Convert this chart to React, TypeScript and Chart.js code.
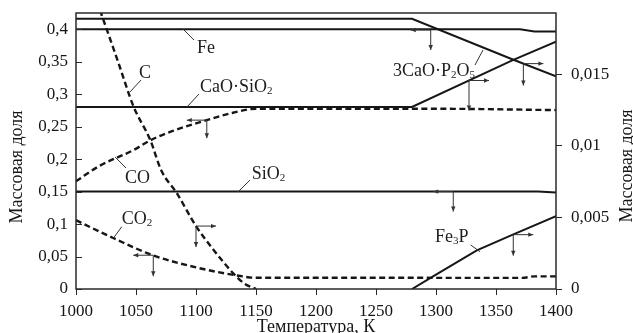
import React, { useEffect, useRef } from 'react';
import { Chart, registerables } from 'chart.js';
Chart.register(...registerables);

// ---- tick values / labels ----
const xTicks = [1000, 1050, 1100, 1150, 1200, 1250, 1300, 1350, 1400];
const xTickLabels = ['1000', '1050', '1100', '1150', '1200', '1250', '1300', '1350', '1400'];
const leftTicks = [0, 0.05, 0.1, 0.15, 0.2, 0.25, 0.3, 0.35, 0.4];
const leftTickLabels = ['0', '0,05', '0,1', '0,15', '0,2', '0,25', '0,3', '0,35', '0,4'];
const rightTicks = [0, 0.005, 0.01, 0.015];
const rightTickLabels = ['0', '0,005', '0,01', '0,015'];

// ---- left-axis series ----
const feT = [1000, 1370, 1382, 1400];
const feV = [0.4, 0.4, 0.3965, 0.3965];
const coT = [1000, 1020, 1048, 1062, 1080, 1109, 1130, 1150, 1300, 1400];
const coV = [0.166, 0.19, 0.214, 0.229, 0.243, 0.26, 0.271, 0.2775, 0.2775, 0.2755];
const sio2T = [1000, 1385, 1400];
const sio2V = [0.15, 0.15, 0.1485];
const co2T = [1000, 1020, 1031, 1064, 1103, 1137, 1148, 1372, 1382, 1400];
const co2V = [0.106, 0.088, 0.0785, 0.052, 0.032, 0.02, 0.0174, 0.0172, 0.0195, 0.0195];

// ---- right-axis series ----
const cT = [1020, 1035, 1048, 1062, 1071, 1084, 1100, 1115, 1131, 1140, 1150];
const cV = [0.0195, 0.0159, 0.01275, 0.0104, 0.0083, 0.0067, 0.0044, 0.0027, 0.0011, 0.0004, 0];
const casio3T = [1000, 1280, 1364, 1400];
const casio3V = [0.01273, 0.01273, 0.01601, 0.0173];
const c3pT = [1000, 1280, 1364, 1400];
const c3pV = [0.0189, 0.0189, 0.01605, 0.01488];
const fe3pT = [1280, 1300, 1334, 1364, 1400];
const fe3pV = [0, 0.001, 0.0027, 0.0038, 0.0051];

// ---- annotations (data coordinates) ----
const arrows = [
  { t: 1109, v: 0.26, axis: 'yL', dir: -1, down: 18 },
  { t: 1100, v: 0.0044, axis: 'yR', dir: 1, down: 21 },
  { t: 1064.4, v: 0.052, axis: 'yL', dir: -1, down: 21 },
  { t: 1295.6, v: 0.3988, axis: 'yL', dir: -1, down: 20 },
  { t: 1314.4, v: 0.15, axis: 'yL', dir: -1, down: 20 },
  { t: 1327.5, v: 0.01458, axis: 'yR', dir: 1, down: 30 },
  { t: 1372.8, v: 0.01576, axis: 'yR', dir: 1, down: 22 },
  { t: 1364.4, v: 0.0038, axis: 'yR', dir: 1, down: 21 },
];
const labels = [
  { text: 'Fe', t: 1100.8, v: 0.3727, lead: [1089.2, 0.4004, 1098.3, 0.3834] },
  { text: 'C', t: 1052.5, v: 0.3342, lead: [1045, 0.3034, 1054.2, 0.3218] },
  { text: 'CaO·SiO_2', t: 1103.3, v: 0.3126, lead: [1092.5, 0.2803, 1102.5, 0.3003] },
  { text: 'CO', t: 1040.8, v: 0.1725, lead: [1032.5, 0.2033, 1041.7, 0.1863] },
  { text: 'SiO_2', t: 1146.4, v: 0.1786, lead: [1135, 0.1494, 1145, 0.1678] },
  { text: 'CO_2', t: 1038.1, v: 0.1093, lead: [1031.1, 0.0781, 1038.1, 0.0959] },
  { text: '3CaO·P_2O_5', t: 1264.2, v: 0.3372, lead: [1332.5, 0.3449, 1339.2, 0.368] },
  { text: 'Fe_3P', t: 1299.2, v: 0.0816, lead: [1328.9, 0.0678, 1336.7, 0.0574] },
];

const yTitle = 'Массовая доля';
const xTitle = 'Температура, К';
const FONT = '"Liberation Serif", "Times New Roman", serif';
const INK = '#161616';

function drawRich(ctx: CanvasRenderingContext2D, str: string, x: number, yBase: number, size: number) {
  const parts: { s: string; sub: boolean }[] = [];
  let i = 0;
  while (i < str.length) {
    if (str[i] === '_') {
      parts.push({ s: str[i + 1], sub: true });
      i += 2;
    } else {
      let j = i;
      while (j < str.length && str[j] !== '_') j++;
      parts.push({ s: str.slice(i, j), sub: false });
      i = j;
    }
  }
  let cx = x;
  for (const p of parts) {
    ctx.font = `${p.sub ? Math.round(size * 0.62) : size}px ${FONT}`;
    ctx.fillText(p.s, cx, p.sub ? yBase + size * 0.1 : yBase);
    cx += ctx.measureText(p.s).width;
  }
}

function arrowHead(ctx: CanvasRenderingContext2D, x: number, y: number, dx: number, dy: number) {
  const L = 5, W = 2.2;
  ctx.beginPath();
  ctx.moveTo(x, y);
  ctx.lineTo(x - dx * L - dy * W, y - dy * L + dx * W);
  ctx.lineTo(x - dx * L + dy * W, y - dy * L - dx * W);
  ctx.closePath();
  ctx.fill();
}

const decorPlugin = {
  id: 'decor',
  beforeDraw(chart: any) {
    const { ctx, width, height } = chart;
    ctx.save();
    ctx.fillStyle = '#fff';
    ctx.fillRect(0, 0, width, height);
    ctx.restore();
  },
  afterDatasetsDraw(chart: any) {
    const { ctx, chartArea: a, scales } = chart;
    const sx = scales.x;
    ctx.save();
    // frame
    ctx.strokeStyle = '#2a2a2a';
    ctx.lineWidth = 1.5;
    ctx.strokeRect(a.left, a.top, a.right - a.left, a.bottom - a.top);
    // inward left ticks
    ctx.lineWidth = 1;
    ctx.beginPath();
    for (const v of leftTicks) {
      const y = Math.round(scales.yL.getPixelForValue(v)) + 0.5;
      ctx.moveTo(a.left, y);
      ctx.lineTo(a.left + 6, y);
    }
    ctx.stroke();

    // arrows
    ctx.strokeStyle = '#333';
    ctx.fillStyle = '#333';
    ctx.lineWidth = 1;
    for (const ar of arrows) {
      const cx = sx.getPixelForValue(ar.t);
      const cy = scales[ar.axis].getPixelForValue(ar.v);
      const hx = cx + ar.dir * 20;
      const vy = cy + ar.down;
      ctx.beginPath();
      ctx.moveTo(hx, cy);
      ctx.lineTo(cx, cy);
      ctx.lineTo(cx, vy);
      ctx.stroke();
      arrowHead(ctx, hx, cy, ar.dir, 0);
      arrowHead(ctx, cx, vy, 0, 1);
    }

    // labels with leader lines
    ctx.fillStyle = '#1e1e1e';
    ctx.strokeStyle = '#333';
    ctx.textBaseline = 'alphabetic';
    ctx.textAlign = 'left';
    const yl = scales.yL;
    for (const lb of labels) {
      ctx.beginPath();
      ctx.moveTo(sx.getPixelForValue(lb.lead[0]), yl.getPixelForValue(lb.lead[1]));
      ctx.lineTo(sx.getPixelForValue(lb.lead[2]), yl.getPixelForValue(lb.lead[3]));
      ctx.stroke();
      const px = sx.getPixelForValue(lb.t);
      const py = yl.getPixelForValue(lb.v);
      drawRich(ctx, lb.text, px, py + 6, 18);
    }
    ctx.restore();
  },
  afterDraw(chart: any) {
    const { ctx, chartArea: a, height } = chart;
    ctx.save();
    ctx.fillStyle = INK;
    ctx.font = `18px ${FONT}`;
    ctx.textAlign = 'center';
    ctx.textBaseline = 'middle';
    ctx.save();
    ctx.translate(17, 167);
    ctx.rotate(-Math.PI / 2);
    ctx.fillText(yTitle, 0, 0);
    ctx.restore();
    ctx.save();
    ctx.translate(627, 166);
    ctx.rotate(-Math.PI / 2);
    ctx.fillText(yTitle, 0, 0);
    ctx.restore();
    ctx.textBaseline = 'alphabetic';
    ctx.fillText(xTitle, (a.left + a.right) / 2, height - 1);
    ctx.restore();
  },
};

const mk = (label: string, T: number[], V: number[], axis: string, dashed: boolean) => ({
  label,
  data: T.map((t, i) => ({ x: t, y: V[i] })),
  yAxisID: axis,
  borderColor: INK,
  borderWidth: dashed ? 2.4 : 2,
  borderDash: dashed ? [6, 3.5] : [],
  pointRadius: 0,
  fill: false,
  tension: 0,
  cubicInterpolationMode: dashed ? 'monotone' : 'default',
});

const noVPad = (w: number) => (s: any) => {
  s.width = w;
  s.paddingTop = 0;
  s.paddingBottom = 0;
};

export default function App() {
  const ref = useRef<HTMLCanvasElement>(null);
  useEffect(() => {
    document.body.style.margin = '0';
    const tickFont = { family: FONT, size: 17 };
    const chart = new Chart(ref.current as HTMLCanvasElement, {
      type: 'line',
      data: {
        datasets: [
          mk('Fe', feT, feV, 'yL', false),
          mk('CO', coT, coV, 'yL', true),
          mk('SiO2', sio2T, sio2V, 'yL', false),
          mk('CO2', co2T, co2V, 'yL', true),
          mk('C', cT, cV, 'yR', true),
          mk('CaO·SiO2', casio3T, casio3V, 'yR', false),
          mk('3CaO·P2O5', c3pT, c3pV, 'yR', false),
          mk('Fe3P', fe3pT, fe3pV, 'yR', false),
        ] as any,
      },
      options: {
        responsive: false,
        devicePixelRatio: 1,
        animation: false,
        events: [],
        layout: { padding: { top: 13, left: 0, right: 0, bottom: 0 }, autoPadding: false },
        plugins: { legend: { display: false }, tooltip: { enabled: false } },
        scales: {
          x: {
            type: 'linear',
            position: 'bottom',
            min: 1000,
            max: 1400,
            afterBuildTicks: (s: any) => { s.ticks = xTicks.map((v) => ({ value: v })); },
            afterFit: (s: any) => { s.height = 44; s.paddingLeft = 0; s.paddingRight = 0; },
            ticks: {
              font: tickFont, color: INK, padding: 6, maxRotation: 0,
              callback: (_v: any, i: number) => xTickLabels[i],
            },
            grid: { display: true, drawOnChartArea: false, drawTicks: true, tickLength: 6, color: '#2a2a2a', lineWidth: 1 },
            border: { display: false },
          },
          yL: {
            type: 'linear',
            position: 'left',
            min: 0,
            max: 0.425,
            afterBuildTicks: (s: any) => { s.ticks = leftTicks.map((v) => ({ value: v })); },
            afterFit: noVPad(76),
            ticks: {
              font: tickFont, color: INK, padding: 8,
              callback: (_v: any, i: number) => leftTickLabels[i],
            },
            grid: { display: false, drawTicks: false },
            border: { display: false },
          },
          yR: {
            type: 'linear',
            position: 'right',
            min: 0,
            max: 0.0193,
            afterBuildTicks: (s: any) => { s.ticks = rightTicks.map((v) => ({ value: v })); },
            afterFit: noVPad(77),
            ticks: {
              font: tickFont, color: INK, padding: 9,
              callback: (_v: any, i: number) => rightTickLabels[i],
            },
            grid: { display: true, drawOnChartArea: false, drawTicks: true, tickLength: 6, color: '#2a2a2a', lineWidth: 1 },
            border: { display: false },
          },
        },
      } as any,
      plugins: [decorPlugin as any],
    });
    return () => chart.destroy();
  }, []);
  return (
    <div style={{ width: 633, height: 333, overflow: 'hidden', background: '#fff' }}>
      <canvas ref={ref} width={633} height={333} style={{ display: 'block', width: 633, height: 333 }} />
    </div>
  );
}
